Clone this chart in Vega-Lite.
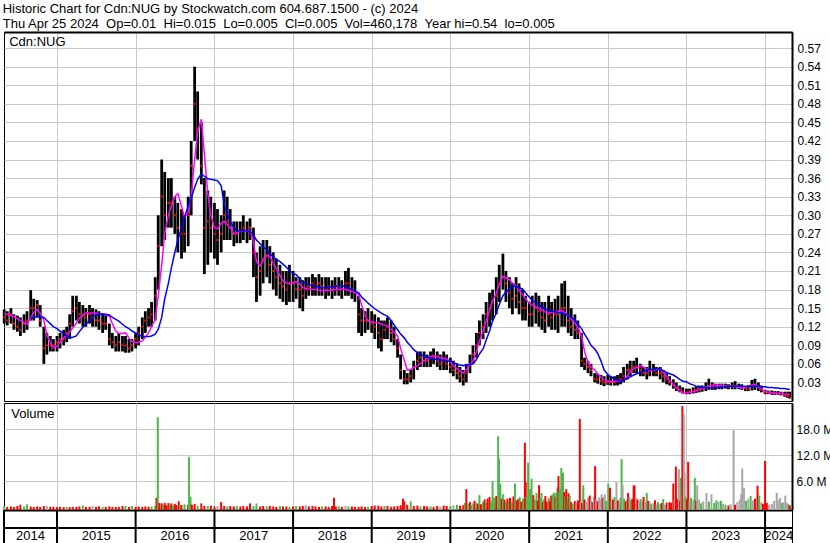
{
"$schema": "https://vega.github.io/schema/vega-lite/v6.json",
"background": "#ffffff",
"padding": {"left": 0, "top": 3, "right": 0, "bottom": 0},
"title": {"text": ["Historic Chart for Cdn:NUG by Stockwatch.com 604.687.1500 - (c) 2024", "Thu Apr 25 2024\u00a0\u00a0Op=0.01\u00a0\u00a0Hi=0.015\u00a0\u00a0Lo=0.005\u00a0\u00a0Cl=0.005\u00a0\u00a0Vol=460,178\u00a0\u00a0Year hi=0.54\u00a0\u00a0lo=0.005"], "anchor": "start", "frame": "bounds", "fontSize": 13, "fontWeight": "normal", "font": "Liberation Sans", "color": "#000000", "lineHeight": 14.5, "offset": 1, "dx": 2},
"config": {
  "font": "Liberation Sans",
  "view": {"stroke": "#000000", "strokeWidth": 1},
  "axis": {"gridColor": "#c8c8c8", "gridWidth": 1, "gridOpacity": 1, "labelFont": "Liberation Sans", "labelFontSize": 12, "labelColor": "#000000", "ticks": false, "domain": false, "title": null, "labelOverlap": false}
},
"datasets": {
"px": [
{"d":"2014-05-01","h":0.148,"l":0.125,"c":0.135,"m":0.141},
{"d":"2014-05-15","h":0.145,"l":0.122,"c":0.13,"m":0.14},
{"d":"2014-06-01","h":0.15,"l":0.125,"c":0.14,"m":0.138},
{"d":"2014-06-15","h":0.14,"l":0.115,"c":0.125,"m":0.136},
{"d":"2014-07-01","h":0.138,"l":0.112,"c":0.12,"m":0.133},
{"d":"2014-07-15","h":0.135,"l":0.105,"c":0.115,"m":0.13},
{"d":"2014-08-01","h":0.14,"l":0.11,"c":0.125,"m":0.127},
{"d":"2014-08-15","h":0.145,"l":0.115,"c":0.13,"m":0.124},
{"d":"2014-09-01","h":0.179,"l":0.13,"c":0.15,"m":0.134,"b":0.134},
{"d":"2014-09-15","h":0.165,"l":0.13,"c":0.15,"m":0.143,"b":0.135},
{"d":"2014-10-01","h":0.163,"l":0.135,"c":0.155,"m":0.148,"b":0.136},
{"d":"2014-10-15","h":0.155,"l":0.12,"c":0.13,"m":0.142,"b":0.136},
{"d":"2014-11-01","h":0.12,"l":0.06,"c":0.085,"m":0.13,"b":0.135},
{"d":"2014-11-15","h":0.11,"l":0.075,"c":0.09,"m":0.107,"b":0.13},
{"d":"2014-12-01","h":0.105,"l":0.08,"c":0.09,"m":0.094,"b":0.125},
{"d":"2014-12-15","h":0.1,"l":0.08,"c":0.09,"m":0.086,"b":0.12},
{"d":"2015-01-01","h":0.105,"l":0.08,"c":0.095,"m":0.088,"b":0.117},
{"d":"2015-01-15","h":0.11,"l":0.085,"c":0.1,"m":0.095,"b":0.113},
{"d":"2015-02-01","h":0.115,"l":0.09,"c":0.1,"m":0.102,"b":0.109},
{"d":"2015-02-15","h":0.12,"l":0.095,"c":0.11,"m":0.106,"b":0.105},
{"d":"2015-03-01","h":0.14,"l":0.1,"c":0.125,"m":0.112,"b":0.102},
{"d":"2015-03-15","h":0.17,"l":0.12,"c":0.145,"m":0.118,"b":0.103},
{"d":"2015-04-01","h":0.17,"l":0.13,"c":0.15,"m":0.126,"b":0.105},
{"d":"2015-04-15","h":0.16,"l":0.125,"c":0.14,"m":0.134,"b":0.112},
{"d":"2015-05-01","h":0.155,"l":0.12,"c":0.14,"m":0.138,"b":0.119},
{"d":"2015-05-15","h":0.15,"l":0.12,"c":0.135,"m":0.142,"b":0.124},
{"d":"2015-06-01","h":0.155,"l":0.125,"c":0.14,"m":0.142,"b":0.13},
{"d":"2015-06-15","h":0.15,"l":0.12,"c":0.135,"m":0.142,"b":0.135},
{"d":"2015-07-01","h":0.148,"l":0.12,"c":0.13,"m":0.142,"b":0.139},
{"d":"2015-07-15","h":0.145,"l":0.115,"c":0.13,"m":0.141,"b":0.141},
{"d":"2015-08-01","h":0.14,"l":0.11,"c":0.125,"m":0.141,"b":0.14},
{"d":"2015-08-15","h":0.14,"l":0.115,"c":0.125,"m":0.139,"b":0.14},
{"d":"2015-09-01","h":0.125,"l":0.09,"c":0.1,"m":0.137,"b":0.139},
{"d":"2015-09-15","h":0.11,"l":0.085,"c":0.095,"m":0.125,"b":0.135},
{"d":"2015-10-01","h":0.105,"l":0.08,"c":0.09,"m":0.113,"b":0.132},
{"d":"2015-10-15","h":0.11,"l":0.08,"c":0.095,"m":0.109,"b":0.129},
{"d":"2015-11-01","h":0.105,"l":0.08,"c":0.09,"m":0.109,"b":0.124},
{"d":"2015-11-15","h":0.105,"l":0.078,"c":0.09,"m":0.11,"b":0.12},
{"d":"2015-12-01","h":0.1,"l":0.078,"c":0.085,"m":0.102,"b":0.117},
{"d":"2015-12-15","h":0.1,"l":0.08,"c":0.09,"m":0.096,"b":0.113},
{"d":"2016-01-01","h":0.11,"l":0.085,"c":0.1,"m":0.094,"b":0.11},
{"d":"2016-01-15","h":0.12,"l":0.09,"c":0.11,"m":0.095,"b":0.107},
{"d":"2016-02-01","h":0.135,"l":0.1,"c":0.12,"m":0.097,"b":0.104},
{"d":"2016-02-15","h":0.145,"l":0.11,"c":0.13,"m":0.103,"b":0.104},
{"d":"2016-03-01","h":0.15,"l":0.12,"c":0.135,"m":0.11,"b":0.104},
{"d":"2016-03-15","h":0.16,"l":0.12,"c":0.14,"m":0.12,"b":0.105},
{"d":"2016-04-01","h":0.2,"l":0.13,"c":0.17,"m":0.132,"b":0.108},
{"d":"2016-04-15","h":0.3,"l":0.18,"c":0.25,"m":0.17,"b":0.116},
{"d":"2016-05-01","h":0.39,"l":0.25,"c":0.33,"m":0.22,"b":0.135},
{"d":"2016-05-15","h":0.37,"l":0.26,"c":0.3,"m":0.27,"b":0.165},
{"d":"2016-06-01","h":0.36,"l":0.28,"c":0.32,"m":0.3,"b":0.19},
{"d":"2016-06-15","h":0.36,"l":0.28,"c":0.32,"m":0.315,"b":0.215},
{"d":"2016-07-01","h":0.33,"l":0.27,"c":0.3,"m":0.33,"b":0.24},
{"d":"2016-07-15","h":0.32,"l":0.24,"c":0.28,"m":0.335,"b":0.26},
{"d":"2016-08-01","h":0.31,"l":0.23,"c":0.27,"m":0.315,"b":0.28},
{"d":"2016-08-15","h":0.3,"l":0.24,"c":0.27,"m":0.297,"b":0.297},
{"d":"2016-09-01","h":0.33,"l":0.25,"c":0.3,"m":0.305,"b":0.315},
{"d":"2016-09-15","h":0.42,"l":0.3,"c":0.38,"m":0.33,"b":0.328},
{"d":"2016-10-01","h":0.54,"l":0.42,"c":0.48,"m":0.39,"b":0.345},
{"d":"2016-10-15","h":0.5,"l":0.39,"c":0.44,"m":0.435,"b":0.358},
{"d":"2016-11-01","h":0.45,"l":0.35,"c":0.38,"m":0.455,"b":0.367},
{"d":"2016-11-15","h":0.36,"l":0.205,"c":0.28,"m":0.4,"b":0.363},
{"d":"2016-12-01","h":0.34,"l":0.22,"c":0.29,"m":0.335,"b":0.359},
{"d":"2016-12-15","h":0.33,"l":0.24,"c":0.28,"m":0.3,"b":0.358},
{"d":"2017-01-01","h":0.32,"l":0.23,"c":0.27,"m":0.28,"b":0.357},
{"d":"2017-01-15","h":0.31,"l":0.22,"c":0.26,"m":0.278,"b":0.356},
{"d":"2017-02-01","h":0.3,"l":0.24,"c":0.27,"m":0.287,"b":0.348},
{"d":"2017-02-15","h":0.34,"l":0.26,"c":0.3,"m":0.29,"b":0.318},
{"d":"2017-03-01","h":0.33,"l":0.26,"c":0.29,"m":0.285,"b":0.303},
{"d":"2017-03-15","h":0.31,"l":0.26,"c":0.28,"m":0.28,"b":0.29},
{"d":"2017-04-01","h":0.29,"l":0.25,"c":0.27,"m":0.27,"b":0.28},
{"d":"2017-04-15","h":0.29,"l":0.255,"c":0.27,"m":0.272,"b":0.275},
{"d":"2017-05-01","h":0.29,"l":0.255,"c":0.275,"m":0.275,"b":0.275},
{"d":"2017-05-15","h":0.3,"l":0.26,"c":0.28,"m":0.275,"b":0.275},
{"d":"2017-06-01","h":0.29,"l":0.255,"c":0.275,"m":0.275,"b":0.275},
{"d":"2017-06-15","h":0.295,"l":0.26,"c":0.28,"m":0.275,"b":0.274},
{"d":"2017-07-01","h":0.28,"l":0.2,"c":0.24,"m":0.258,"b":0.268},
{"d":"2017-07-15","h":0.24,"l":0.16,"c":0.2,"m":0.225,"b":0.26},
{"d":"2017-08-01","h":0.25,"l":0.17,"c":0.21,"m":0.218,"b":0.254},
{"d":"2017-08-15","h":0.26,"l":0.19,"c":0.23,"m":0.227,"b":0.249},
{"d":"2017-09-01","h":0.26,"l":0.2,"c":0.235,"m":0.235,"b":0.244},
{"d":"2017-09-15","h":0.25,"l":0.19,"c":0.22,"m":0.234,"b":0.238},
{"d":"2017-10-01","h":0.24,"l":0.18,"c":0.21,"m":0.222,"b":0.233},
{"d":"2017-10-15","h":0.23,"l":0.17,"c":0.2,"m":0.214,"b":0.229},
{"d":"2017-11-01","h":0.22,"l":0.165,"c":0.19,"m":0.203,"b":0.225},
{"d":"2017-11-15","h":0.21,"l":0.16,"c":0.185,"m":0.194,"b":0.221},
{"d":"2017-12-01","h":0.21,"l":0.155,"c":0.18,"m":0.191,"b":0.216},
{"d":"2017-12-15","h":0.22,"l":0.16,"c":0.19,"m":0.189,"b":0.211},
{"d":"2018-01-01","h":0.21,"l":0.16,"c":0.19,"m":0.191,"b":0.206},
{"d":"2018-01-15","h":0.2,"l":0.165,"c":0.18,"m":0.193,"b":0.204},
{"d":"2018-02-01","h":0.2,"l":0.15,"c":0.18,"m":0.189,"b":0.198},
{"d":"2018-02-15","h":0.195,"l":0.145,"c":0.17,"m":0.183,"b":0.192},
{"d":"2018-03-01","h":0.2,"l":0.165,"c":0.18,"m":0.182,"b":0.19},
{"d":"2018-03-15","h":0.2,"l":0.17,"c":0.185,"m":0.181,"b":0.188},
{"d":"2018-04-01","h":0.205,"l":0.17,"c":0.19,"m":0.18,"b":0.186},
{"d":"2018-04-15","h":0.2,"l":0.17,"c":0.185,"m":0.18,"b":0.185},
{"d":"2018-05-01","h":0.205,"l":0.17,"c":0.19,"m":0.179,"b":0.184},
{"d":"2018-05-15","h":0.2,"l":0.17,"c":0.185,"m":0.178,"b":0.183},
{"d":"2018-06-01","h":0.2,"l":0.165,"c":0.18,"m":0.178,"b":0.183},
{"d":"2018-06-15","h":0.2,"l":0.17,"c":0.185,"m":0.179,"b":0.184},
{"d":"2018-07-01","h":0.195,"l":0.165,"c":0.18,"m":0.179,"b":0.185},
{"d":"2018-07-15","h":0.2,"l":0.17,"c":0.185,"m":0.18,"b":0.185},
{"d":"2018-08-01","h":0.2,"l":0.17,"c":0.185,"m":0.18,"b":0.186},
{"d":"2018-08-15","h":0.195,"l":0.165,"c":0.18,"m":0.181,"b":0.186},
{"d":"2018-09-01","h":0.21,"l":0.17,"c":0.19,"m":0.18,"b":0.185},
{"d":"2018-09-15","h":0.215,"l":0.17,"c":0.19,"m":0.179,"b":0.183},
{"d":"2018-10-01","h":0.2,"l":0.165,"c":0.18,"m":0.177,"b":0.18},
{"d":"2018-10-15","h":0.195,"l":0.16,"c":0.175,"m":0.176,"b":0.177},
{"d":"2018-11-01","h":0.17,"l":0.11,"c":0.14,"m":0.172,"b":0.175},
{"d":"2018-11-15","h":0.15,"l":0.105,"c":0.13,"m":0.155,"b":0.168},
{"d":"2018-12-01","h":0.145,"l":0.11,"c":0.13,"m":0.138,"b":0.163},
{"d":"2018-12-15","h":0.15,"l":0.115,"c":0.13,"m":0.129,"b":0.158},
{"d":"2019-01-01","h":0.145,"l":0.11,"c":0.125,"m":0.128,"b":0.153},
{"d":"2019-01-15","h":0.14,"l":0.1,"c":0.12,"m":0.127,"b":0.149},
{"d":"2019-02-01","h":0.135,"l":0.085,"c":0.11,"m":0.126,"b":0.145},
{"d":"2019-02-15","h":0.13,"l":0.08,"c":0.1,"m":0.124,"b":0.142},
{"d":"2019-03-01","h":0.13,"l":0.1,"c":0.115,"m":0.123,"b":0.139},
{"d":"2019-03-15","h":0.135,"l":0.1,"c":0.12,"m":0.121,"b":0.137},
{"d":"2019-04-01","h":0.13,"l":0.095,"c":0.11,"m":0.116,"b":0.13},
{"d":"2019-04-15","h":0.12,"l":0.09,"c":0.1,"m":0.111,"b":0.123},
{"d":"2019-05-01","h":0.1,"l":0.07,"c":0.085,"m":0.105,"b":0.115},
{"d":"2019-05-15","h":0.075,"l":0.035,"c":0.05,"m":0.085,"b":0.108},
{"d":"2019-06-01","h":0.05,"l":0.027,"c":0.035,"m":0.066,"b":0.102},
{"d":"2019-06-15","h":0.045,"l":0.027,"c":0.035,"m":0.05,"b":0.095},
{"d":"2019-07-01","h":0.05,"l":0.03,"c":0.04,"m":0.051,"b":0.089},
{"d":"2019-07-15","h":0.065,"l":0.035,"c":0.055,"m":0.054,"b":0.083},
{"d":"2019-08-01","h":0.08,"l":0.05,"c":0.065,"m":0.057,"b":0.078},
{"d":"2019-08-15","h":0.08,"l":0.055,"c":0.07,"m":0.061,"b":0.075},
{"d":"2019-09-01","h":0.08,"l":0.055,"c":0.065,"m":0.065,"b":0.073},
{"d":"2019-09-15","h":0.075,"l":0.055,"c":0.065,"m":0.069,"b":0.071},
{"d":"2019-10-01","h":0.08,"l":0.055,"c":0.07,"m":0.072,"b":0.069},
{"d":"2019-10-15","h":0.085,"l":0.06,"c":0.07,"m":0.073,"b":0.068},
{"d":"2019-11-01","h":0.08,"l":0.055,"c":0.065,"m":0.072,"b":0.067},
{"d":"2019-11-15","h":0.075,"l":0.05,"c":0.06,"m":0.07,"b":0.066},
{"d":"2019-12-01","h":0.08,"l":0.05,"c":0.065,"m":0.069,"b":0.066},
{"d":"2019-12-15","h":0.075,"l":0.05,"c":0.06,"m":0.068,"b":0.065},
{"d":"2020-01-01","h":0.07,"l":0.045,"c":0.055,"m":0.063,"b":0.064},
{"d":"2020-01-15","h":0.065,"l":0.04,"c":0.05,"m":0.057,"b":0.062},
{"d":"2020-02-01","h":0.06,"l":0.035,"c":0.045,"m":0.052,"b":0.06},
{"d":"2020-02-15","h":0.055,"l":0.03,"c":0.04,"m":0.048,"b":0.058},
{"d":"2020-03-01","h":0.05,"l":0.025,"c":0.035,"m":0.045,"b":0.057},
{"d":"2020-03-15","h":0.06,"l":0.03,"c":0.045,"m":0.051,"b":0.058},
{"d":"2020-04-01","h":0.075,"l":0.045,"c":0.06,"m":0.058,"b":0.059},
{"d":"2020-04-15","h":0.09,"l":0.06,"c":0.075,"m":0.065,"b":0.06},
{"d":"2020-05-01","h":0.11,"l":0.07,"c":0.09,"m":0.08,"b":0.067},
{"d":"2020-05-15","h":0.13,"l":0.09,"c":0.11,"m":0.097,"b":0.076},
{"d":"2020-06-01","h":0.14,"l":0.1,"c":0.12,"m":0.113,"b":0.084},
{"d":"2020-06-15","h":0.16,"l":0.11,"c":0.14,"m":0.129,"b":0.098},
{"d":"2020-07-01","h":0.175,"l":0.12,"c":0.15,"m":0.146,"b":0.113},
{"d":"2020-07-15","h":0.18,"l":0.13,"c":0.16,"m":0.162,"b":0.129},
{"d":"2020-08-01","h":0.2,"l":0.14,"c":0.17,"m":0.174,"b":0.142},
{"d":"2020-08-15","h":0.22,"l":0.16,"c":0.19,"m":0.188,"b":0.156},
{"d":"2020-09-01","h":0.238,"l":0.18,"c":0.2,"m":0.201,"b":0.17},
{"d":"2020-09-15","h":0.21,"l":0.16,"c":0.19,"m":0.199,"b":0.176},
{"d":"2020-10-01","h":0.2,"l":0.15,"c":0.175,"m":0.196,"b":0.181},
{"d":"2020-10-15","h":0.19,"l":0.14,"c":0.165,"m":0.191,"b":0.186},
{"d":"2020-11-01","h":0.2,"l":0.15,"c":0.17,"m":0.186,"b":0.185},
{"d":"2020-11-15","h":0.19,"l":0.14,"c":0.16,"m":0.178,"b":0.183},
{"d":"2020-12-01","h":0.18,"l":0.13,"c":0.15,"m":0.172,"b":0.181},
{"d":"2020-12-15","h":0.17,"l":0.13,"c":0.15,"m":0.165,"b":0.175},
{"d":"2021-01-01","h":0.16,"l":0.12,"c":0.14,"m":0.158,"b":0.168},
{"d":"2021-01-15","h":0.17,"l":0.12,"c":0.14,"m":0.155,"b":0.163},
{"d":"2021-02-01","h":0.175,"l":0.125,"c":0.15,"m":0.152,"b":0.159},
{"d":"2021-02-15","h":0.17,"l":0.12,"c":0.145,"m":0.15,"b":0.155},
{"d":"2021-03-01","h":0.16,"l":0.115,"c":0.135,"m":0.147,"b":0.152},
{"d":"2021-03-15","h":0.16,"l":0.11,"c":0.13,"m":0.144,"b":0.149},
{"d":"2021-04-01","h":0.17,"l":0.12,"c":0.14,"m":0.142,"b":0.146},
{"d":"2021-04-15","h":0.16,"l":0.115,"c":0.135,"m":0.143,"b":0.145},
{"d":"2021-05-01","h":0.165,"l":0.115,"c":0.14,"m":0.144,"b":0.144},
{"d":"2021-05-15","h":0.17,"l":0.11,"c":0.14,"m":0.145,"b":0.143},
{"d":"2021-06-01","h":0.19,"l":0.12,"c":0.15,"m":0.146,"b":0.142},
{"d":"2021-06-15","h":0.194,"l":0.12,"c":0.15,"m":0.143,"b":0.141},
{"d":"2021-07-01","h":0.17,"l":0.11,"c":0.13,"m":0.138,"b":0.138},
{"d":"2021-07-15","h":0.15,"l":0.105,"c":0.12,"m":0.132,"b":0.135},
{"d":"2021-08-01","h":0.14,"l":0.1,"c":0.115,"m":0.126,"b":0.131},
{"d":"2021-08-15","h":0.13,"l":0.1,"c":0.11,"m":0.118,"b":0.124},
{"d":"2021-09-01","h":0.11,"l":0.055,"c":0.065,"m":0.105,"b":0.117},
{"d":"2021-09-15","h":0.07,"l":0.05,"c":0.06,"m":0.08,"b":0.108},
{"d":"2021-10-01","h":0.065,"l":0.045,"c":0.055,"m":0.062,"b":0.099},
{"d":"2021-10-15","h":0.06,"l":0.04,"c":0.05,"m":0.055,"b":0.09},
{"d":"2021-11-01","h":0.045,"l":0.03,"c":0.035,"m":0.05,"b":0.084},
{"d":"2021-11-15","h":0.044,"l":0.028,"c":0.035,"m":0.044,"b":0.077},
{"d":"2021-12-01","h":0.042,"l":0.026,"c":0.032,"m":0.038,"b":0.064},
{"d":"2021-12-15","h":0.04,"l":0.024,"c":0.03,"m":0.034,"b":0.05},
{"d":"2022-01-01","h":0.042,"l":0.026,"c":0.03,"m":0.032,"b":0.043},
{"d":"2022-01-15","h":0.04,"l":0.025,"c":0.03,"m":0.032,"b":0.039},
{"d":"2022-02-01","h":0.04,"l":0.025,"c":0.03,"m":0.032,"b":0.036},
{"d":"2022-02-15","h":0.042,"l":0.025,"c":0.032,"m":0.032,"b":0.033},
{"d":"2022-03-01","h":0.045,"l":0.027,"c":0.035,"m":0.032,"b":0.032},
{"d":"2022-03-15","h":0.055,"l":0.03,"c":0.04,"m":0.033,"b":0.034},
{"d":"2022-04-01","h":0.06,"l":0.035,"c":0.05,"m":0.04,"b":0.036},
{"d":"2022-04-15","h":0.065,"l":0.04,"c":0.05,"m":0.047,"b":0.039},
{"d":"2022-05-01","h":0.065,"l":0.045,"c":0.055,"m":0.052,"b":0.042},
{"d":"2022-05-15","h":0.07,"l":0.045,"c":0.055,"m":0.054,"b":0.044},
{"d":"2022-06-01","h":0.06,"l":0.04,"c":0.05,"m":0.057,"b":0.046},
{"d":"2022-06-15","h":0.055,"l":0.04,"c":0.045,"m":0.055,"b":0.048},
{"d":"2022-07-01","h":0.055,"l":0.035,"c":0.045,"m":0.052,"b":0.05},
{"d":"2022-07-15","h":0.065,"l":0.04,"c":0.05,"m":0.049,"b":0.051},
{"d":"2022-08-01","h":0.06,"l":0.04,"c":0.05,"m":0.05,"b":0.051},
{"d":"2022-08-15","h":0.055,"l":0.04,"c":0.045,"m":0.051,"b":0.052},
{"d":"2022-09-01","h":0.055,"l":0.035,"c":0.045,"m":0.052,"b":0.052},
{"d":"2022-09-15","h":0.05,"l":0.03,"c":0.04,"m":0.046,"b":0.049},
{"d":"2022-10-01","h":0.045,"l":0.027,"c":0.035,"m":0.04,"b":0.046},
{"d":"2022-10-15","h":0.04,"l":0.025,"c":0.03,"m":0.033,"b":0.044},
{"d":"2022-11-01","h":0.035,"l":0.02,"c":0.025,"m":0.027,"b":0.042},
{"d":"2022-11-15","h":0.03,"l":0.016,"c":0.02,"m":0.022,"b":0.039},
{"d":"2022-12-01","h":0.025,"l":0.014,"c":0.018,"m":0.017,"b":0.035},
{"d":"2022-12-15","h":0.022,"l":0.012,"c":0.015,"m":0.013,"b":0.032},
{"d":"2023-01-01","h":0.02,"l":0.011,"c":0.014,"m":0.013,"b":0.031},
{"d":"2023-01-15","h":0.02,"l":0.011,"c":0.015,"m":0.014,"b":0.028},
{"d":"2023-02-01","h":0.022,"l":0.012,"c":0.016,"m":0.015,"b":0.026},
{"d":"2023-02-15","h":0.024,"l":0.013,"c":0.018,"m":0.016,"b":0.024},
{"d":"2023-03-01","h":0.025,"l":0.014,"c":0.02,"m":0.018,"b":0.023},
{"d":"2023-03-15","h":0.025,"l":0.015,"c":0.02,"m":0.02,"b":0.022},
{"d":"2023-04-01","h":0.03,"l":0.016,"c":0.022,"m":0.022,"b":0.022},
{"d":"2023-04-15","h":0.036,"l":0.018,"c":0.024,"m":0.024,"b":0.021},
{"d":"2023-05-01","h":0.03,"l":0.018,"c":0.024,"m":0.026,"b":0.021},
{"d":"2023-05-15","h":0.028,"l":0.018,"c":0.024,"m":0.026,"b":0.022},
{"d":"2023-06-01","h":0.028,"l":0.019,"c":0.023,"m":0.025,"b":0.022},
{"d":"2023-06-15","h":0.028,"l":0.019,"c":0.024,"m":0.025,"b":0.023},
{"d":"2023-07-01","h":0.028,"l":0.02,"c":0.024,"m":0.024,"b":0.023},
{"d":"2023-07-15","h":0.027,"l":0.019,"c":0.023,"m":0.024,"b":0.024},
{"d":"2023-08-01","h":0.03,"l":0.019,"c":0.024,"m":0.024,"b":0.024},
{"d":"2023-08-15","h":0.032,"l":0.019,"c":0.024,"m":0.023,"b":0.024},
{"d":"2023-09-01","h":0.028,"l":0.019,"c":0.023,"m":0.022,"b":0.024},
{"d":"2023-09-15","h":0.027,"l":0.018,"c":0.022,"m":0.021,"b":0.024},
{"d":"2023-10-01","h":0.024,"l":0.016,"c":0.02,"m":0.022,"b":0.024},
{"d":"2023-10-15","h":0.025,"l":0.016,"c":0.02,"m":0.024,"b":0.024},
{"d":"2023-11-01","h":0.034,"l":0.017,"c":0.024,"m":0.026,"b":0.024},
{"d":"2023-11-15","h":0.036,"l":0.018,"c":0.026,"m":0.027,"b":0.024},
{"d":"2023-12-01","h":0.03,"l":0.016,"c":0.022,"m":0.023,"b":0.024},
{"d":"2023-12-15","h":0.025,"l":0.014,"c":0.018,"m":0.019,"b":0.023},
{"d":"2024-01-01","h":0.018,"l":0.011,"c":0.014,"m":0.016,"b":0.023},
{"d":"2024-01-15","h":0.017,"l":0.011,"c":0.014,"m":0.014,"b":0.022},
{"d":"2024-02-01","h":0.017,"l":0.01,"c":0.013,"m":0.013,"b":0.022},
{"d":"2024-02-15","h":0.016,"l":0.01,"c":0.013,"m":0.013,"b":0.021},
{"d":"2024-03-01","h":0.016,"l":0.01,"c":0.012,"m":0.012,"b":0.021},
{"d":"2024-03-15","h":0.015,"l":0.009,"c":0.012,"m":0.012,"b":0.02},
{"d":"2024-04-01","h":0.015,"l":0.007,"c":0.01,"m":0.011,"b":0.02},
{"d":"2024-04-15","h":0.015,"l":0.005,"c":0.008,"m":0.011,"b":0.019},
{"d":"2024-04-25","h":0.015,"l":0.005,"c":0.005,"m":0.011,"b":0.019}
],
"vol": [
{"d":"2014-05-01","v":0.3,"k":"g"},{"d":"2014-05-15","v":0.1,"k":"r"},{"d":"2014-06-01","v":0.2,"k":"r"},{"d":"2014-06-15","v":0.1,"k":"r"},
{"d":"2014-07-01","v":0.3,"k":"r"},{"d":"2014-07-15","v":0.6,"k":"r"},{"d":"2014-08-01","v":0.2,"k":"g"},{"d":"2014-08-15","v":0.7,"k":"g"},
{"d":"2014-09-01","v":0.2,"k":"r"},{"d":"2014-09-15","v":0.1,"k":"r"},{"d":"2014-10-01","v":0.2,"k":"r"},{"d":"2014-10-15","v":0.1,"k":"r"},
{"d":"2014-11-01","v":0.3,"k":"r"},{"d":"2014-11-15","v":0.3,"k":"n"},{"d":"2014-12-01","v":0.1,"k":"r"},{"d":"2014-12-15","v":0.1,"k":"r"},
{"d":"2015-01-01","v":0.05,"k":"r"},{"d":"2015-01-15","v":0.1,"k":"r"},{"d":"2015-02-01","v":0.05,"k":"r"},{"d":"2015-02-15","v":0.1,"k":"g"},
{"d":"2015-03-01","v":0.05,"k":"r"},{"d":"2015-03-15","v":0.1,"k":"r"},{"d":"2015-04-01","v":0.1,"k":"r"},{"d":"2015-04-15","v":0.2,"k":"r"},
{"d":"2015-05-01","v":0.4,"k":"g"},{"d":"2015-05-15","v":0.1,"k":"r"},{"d":"2015-06-01","v":0.1,"k":"r"},{"d":"2015-06-15","v":0.3,"k":"n"},
{"d":"2015-07-01","v":0.1,"k":"r"},{"d":"2015-07-15","v":0.2,"k":"r"},{"d":"2015-08-01","v":0.1,"k":"g"},{"d":"2015-08-15","v":0.1,"k":"r"},
{"d":"2015-09-01","v":0.2,"k":"r"},{"d":"2015-09-15","v":0.1,"k":"r"},{"d":"2015-10-01","v":0.1,"k":"r"},{"d":"2015-10-15","v":0.1,"k":"r"},
{"d":"2015-11-01","v":0.3,"k":"r"},{"d":"2015-11-15","v":0.3,"k":"g"},{"d":"2015-12-01","v":0.1,"k":"r"},{"d":"2015-12-15","v":0.3,"k":"g"},
{"d":"2016-01-01","v":0.1,"k":"r"},{"d":"2016-01-15","v":0.2,"k":"r"},{"d":"2016-02-01","v":0.1,"k":"r"},{"d":"2016-02-15","v":0.2,"k":"r"},
{"d":"2016-03-01","v":0.1,"k":"r"},{"d":"2016-03-15","v":0.2,"k":"g"},{"d":"2016-04-01","v":0.3,"k":"g"},{"d":"2016-04-07","v":2.2,"k":"r"},
{"d":"2016-04-13","v":20.8,"k":"g"},{"d":"2016-04-20","v":1.0,"k":"r"},{"d":"2016-05-01","v":0.9,"k":"r"},{"d":"2016-05-08","v":0.6,"k":"g"},
{"d":"2016-05-15","v":1.0,"k":"r"},{"d":"2016-05-22","v":0.5,"k":"r"},{"d":"2016-06-01","v":1.0,"k":"r"},{"d":"2016-06-08","v":0.6,"k":"g"},
{"d":"2016-06-15","v":0.9,"k":"r"},{"d":"2016-06-22","v":0.4,"k":"g"},{"d":"2016-07-01","v":0.8,"k":"r"},{"d":"2016-07-08","v":0.5,"k":"r"},
{"d":"2016-07-19","v":1.4,"k":"r"},{"d":"2016-07-25","v":0.6,"k":"g"},{"d":"2016-08-01","v":0.5,"k":"r"},{"d":"2016-08-15","v":0.7,"k":"g"},
{"d":"2016-09-01","v":0.6,"k":"r"},{"d":"2016-09-05","v":11.6,"k":"g"},{"d":"2016-09-12","v":2.4,"k":"g"},{"d":"2016-09-18","v":0.6,"k":"r"},
{"d":"2016-10-01","v":0.8,"k":"r"},{"d":"2016-10-15","v":0.3,"k":"g"},{"d":"2016-11-01","v":0.9,"k":"r"},{"d":"2016-11-15","v":0.3,"k":"r"},
{"d":"2016-12-01","v":0.3,"k":"g"},{"d":"2016-12-15","v":0.4,"k":"r"},{"d":"2017-01-01","v":0.2,"k":"r"},{"d":"2017-01-15","v":0.3,"k":"n"},
{"d":"2017-02-01","v":1.2,"k":"r"},{"d":"2017-02-15","v":0.3,"k":"r"},{"d":"2017-03-01","v":0.2,"k":"g"},{"d":"2017-03-15","v":0.3,"k":"r"},
{"d":"2017-04-01","v":0.2,"k":"r"},{"d":"2017-04-15","v":0.3,"k":"g"},{"d":"2017-05-01","v":0.2,"k":"r"},{"d":"2017-05-15","v":0.3,"k":"r"},
{"d":"2017-06-01","v":0.2,"k":"r"},{"d":"2017-06-15","v":0.9,"k":"r"},{"d":"2017-07-01","v":0.3,"k":"g"},{"d":"2017-07-15","v":0.9,"k":"g"},
{"d":"2017-08-01","v":0.2,"k":"r"},{"d":"2017-08-15","v":0.3,"k":"r"},{"d":"2017-09-01","v":0.2,"k":"g"},{"d":"2017-09-15","v":0.3,"k":"r"},
{"d":"2017-10-01","v":0.2,"k":"r"},{"d":"2017-10-15","v":0.1,"k":"r"},{"d":"2017-11-01","v":0.3,"k":"g"},{"d":"2017-11-15","v":0.2,"k":"r"},
{"d":"2017-12-01","v":0.2,"k":"r"},{"d":"2017-12-15","v":0.1,"k":"g"},{"d":"2018-01-01","v":0.2,"k":"r"},{"d":"2018-01-15","v":0.3,"k":"g"},
{"d":"2018-02-01","v":0.2,"k":"r"},{"d":"2018-02-15","v":0.3,"k":"r"},{"d":"2018-03-01","v":0.5,"k":"n"},{"d":"2018-03-15","v":0.2,"k":"r"},
{"d":"2018-04-01","v":0.3,"k":"r"},{"d":"2018-04-15","v":0.2,"k":"r"},{"d":"2018-05-01","v":0.1,"k":"r"},{"d":"2018-05-15","v":0.2,"k":"g"},
{"d":"2018-06-01","v":0.2,"k":"r"},{"d":"2018-06-15","v":0.1,"k":"r"},{"d":"2018-07-01","v":0.3,"k":"r"},{"d":"2018-07-10","v":2.2,"k":"r"},
{"d":"2018-07-18","v":0.2,"k":"r"},{"d":"2018-08-01","v":0.2,"k":"g"},{"d":"2018-08-15","v":0.1,"k":"r"},{"d":"2018-09-01","v":0.3,"k":"n"},
{"d":"2018-09-15","v":0.2,"k":"g"},{"d":"2018-10-01","v":0.2,"k":"r"},{"d":"2018-10-15","v":0.1,"k":"r"},{"d":"2018-11-01","v":0.1,"k":"r"},
{"d":"2018-11-15","v":0.2,"k":"r"},{"d":"2018-12-01","v":0.1,"k":"r"},{"d":"2018-12-15","v":0.1,"k":"g"},{"d":"2019-01-01","v":0.3,"k":"r"},
{"d":"2019-01-15","v":0.4,"k":"r"},{"d":"2019-02-01","v":0.4,"k":"r"},{"d":"2019-02-15","v":0.2,"k":"r"},{"d":"2019-03-01","v":0.3,"k":"g"},
{"d":"2019-03-15","v":0.3,"k":"r"},{"d":"2019-04-01","v":0.1,"k":"r"},{"d":"2019-04-15","v":0.2,"k":"r"},{"d":"2019-05-01","v":0.3,"k":"r"},
{"d":"2019-05-15","v":0.5,"k":"r"},{"d":"2019-05-26","v":2.0,"k":"r"},{"d":"2019-06-01","v":1.4,"k":"r"},{"d":"2019-06-08","v":0.9,"k":"n"},
{"d":"2019-06-15","v":0.5,"k":"r"},{"d":"2019-07-01","v":1.4,"k":"g"},{"d":"2019-07-15","v":0.3,"k":"r"},{"d":"2019-08-01","v":0.4,"k":"r"},
{"d":"2019-08-15","v":0.2,"k":"g"},{"d":"2019-09-01","v":0.3,"k":"r"},{"d":"2019-09-15","v":0.2,"k":"r"},{"d":"2019-10-01","v":0.2,"k":"g"},
{"d":"2019-10-15","v":0.1,"k":"r"},{"d":"2019-11-01","v":0.3,"k":"r"},{"d":"2019-11-15","v":0.2,"k":"n"},{"d":"2019-12-01","v":0.4,"k":"r"},
{"d":"2019-12-15","v":0.3,"k":"r"},{"d":"2020-01-01","v":0.3,"k":"g"},{"d":"2020-01-15","v":0.5,"k":"n"},{"d":"2020-02-01","v":0.6,"k":"g"},
{"d":"2020-02-15","v":0.4,"k":"r"},{"d":"2020-03-01","v":0.5,"k":"r"},{"d":"2020-03-08","v":1.0,"k":"g"},{"d":"2020-03-15","v":4.2,"k":"r"},
{"d":"2020-03-22","v":0.8,"k":"g"},{"d":"2020-04-01","v":1.2,"k":"r"},{"d":"2020-04-08","v":0.6,"k":"g"},{"d":"2020-04-15","v":0.9,"k":"n"},
{"d":"2020-04-22","v":1.5,"k":"r"},{"d":"2020-05-01","v":1.1,"k":"g"},{"d":"2020-05-08","v":0.8,"k":"r"},{"d":"2020-05-15","v":2.8,"k":"g"},
{"d":"2020-05-22","v":0.7,"k":"r"},{"d":"2020-06-01","v":1.3,"k":"g"},{"d":"2020-06-08","v":1.8,"k":"r"},{"d":"2020-06-15","v":1.0,"k":"g"},
{"d":"2020-06-22","v":2.0,"k":"r"},{"d":"2020-07-01","v":2.4,"k":"r"},{"d":"2020-07-08","v":1.5,"k":"g"},{"d":"2020-07-15","v":6.0,"k":"g"},
{"d":"2020-07-22","v":2.2,"k":"g"},{"d":"2020-08-01","v":2.6,"k":"r"},{"d":"2020-08-10","v":16.4,"k":"g"},{"d":"2020-08-14","v":11.2,"k":"g"},
{"d":"2020-08-20","v":5.4,"k":"g"},{"d":"2020-08-26","v":2.0,"k":"r"},{"d":"2020-09-01","v":3.0,"k":"g"},{"d":"2020-09-08","v":1.8,"k":"r"},
{"d":"2020-09-15","v":1.2,"k":"g"},{"d":"2020-09-22","v":2.0,"k":"r"},{"d":"2020-09-28","v":1.5,"k":"g"},{"d":"2020-10-04","v":2.2,"k":"r"},
{"d":"2020-10-12","v":1.2,"k":"g"},{"d":"2020-10-20","v":2.5,"k":"r"},{"d":"2020-10-27","v":5.5,"k":"g"},{"d":"2020-11-04","v":1.6,"k":"r"},
{"d":"2020-11-11","v":1.9,"k":"r"},{"d":"2020-11-18","v":2.4,"k":"g"},{"d":"2020-11-25","v":1.3,"k":"r"},{"d":"2020-12-03","v":2.0,"k":"g"},
{"d":"2020-12-12","v":14.9,"k":"r"},{"d":"2020-12-16","v":5.8,"k":"r"},{"d":"2020-12-20","v":2.5,"k":"g"},{"d":"2020-12-27","v":10.3,"k":"g"},
{"d":"2021-01-05","v":4.2,"k":"g"},{"d":"2021-01-12","v":6.6,"k":"g"},{"d":"2021-01-20","v":2.8,"k":"r"},{"d":"2021-01-27","v":1.8,"k":"g"},
{"d":"2021-02-04","v":3.3,"k":"g"},{"d":"2021-02-10","v":1.5,"k":"r"},{"d":"2021-02-16","v":5.1,"k":"r"},{"d":"2021-02-22","v":2.0,"k":"g"},
{"d":"2021-02-27","v":3.3,"k":"g"},{"d":"2021-03-05","v":1.2,"k":"r"},{"d":"2021-03-10","v":1.8,"k":"g"},{"d":"2021-03-17","v":2.6,"k":"r"},
{"d":"2021-03-24","v":1.3,"k":"r"},{"d":"2021-04-01","v":2.2,"k":"g"},{"d":"2021-04-07","v":1.5,"k":"r"},{"d":"2021-04-13","v":2.7,"k":"r"},
{"d":"2021-04-20","v":3.0,"k":"g"},{"d":"2021-04-27","v":3.4,"k":"g"},{"d":"2021-05-03","v":2.4,"k":"r"},{"d":"2021-05-07","v":3.3,"k":"g"},
{"d":"2021-05-12","v":4.6,"k":"g"},{"d":"2021-05-17","v":7.2,"k":"r"},{"d":"2021-05-21","v":3.6,"k":"g"},{"d":"2021-05-26","v":4.2,"k":"g"},
{"d":"2021-05-30","v":9.1,"k":"g"},{"d":"2021-06-03","v":5.0,"k":"g"},{"d":"2021-06-07","v":8.0,"k":"g"},{"d":"2021-06-12","v":3.5,"k":"r"},
{"d":"2021-06-17","v":2.6,"k":"g"},{"d":"2021-06-22","v":4.2,"k":"r"},{"d":"2021-06-28","v":1.8,"k":"g"},{"d":"2021-07-03","v":3.2,"k":"r"},
{"d":"2021-07-08","v":2.6,"k":"g"},{"d":"2021-07-15","v":1.2,"k":"r"},{"d":"2021-07-22","v":0.8,"k":"g"},{"d":"2021-08-01","v":1.4,"k":"r"},
{"d":"2021-08-08","v":1.0,"k":"n"},{"d":"2021-08-15","v":1.6,"k":"r"},{"d":"2021-08-20","v":0.9,"k":"r"},{"d":"2021-08-24","v":20.4,"k":"r"},
{"d":"2021-08-28","v":1.2,"k":"n"},{"d":"2021-09-03","v":1.0,"k":"r"},{"d":"2021-09-09","v":5.1,"k":"g"},{"d":"2021-09-15","v":1.8,"k":"r"},
{"d":"2021-09-22","v":1.2,"k":"n"},{"d":"2021-10-01","v":2.2,"k":"n"},{"d":"2021-10-09","v":2.7,"k":"r"},{"d":"2021-10-15","v":1.6,"k":"n"},
{"d":"2021-10-22","v":1.2,"k":"r"},{"d":"2021-10-28","v":2.4,"k":"n"},{"d":"2021-11-03","v":9.5,"k":"r"},{"d":"2021-11-08","v":1.8,"k":"n"},
{"d":"2021-11-15","v":1.4,"k":"r"},{"d":"2021-11-22","v":2.3,"k":"n"},{"d":"2021-11-28","v":1.8,"k":"n"},{"d":"2021-12-03","v":3.0,"k":"n"},
{"d":"2021-12-08","v":2.2,"k":"r"},{"d":"2021-12-13","v":2.4,"k":"n"},{"d":"2021-12-18","v":3.0,"k":"n"},{"d":"2021-12-24","v":1.5,"k":"g"},
{"d":"2022-01-03","v":5.5,"k":"g"},{"d":"2022-01-11","v":4.5,"k":"r"},{"d":"2022-01-18","v":1.4,"k":"n"},{"d":"2022-01-25","v":1.8,"k":"r"},
{"d":"2022-02-01","v":2.4,"k":"g"},{"d":"2022-02-05","v":1.2,"k":"n"},{"d":"2022-02-10","v":5.8,"k":"n"},{"d":"2022-02-17","v":1.6,"k":"r"},
{"d":"2022-02-24","v":1.0,"k":"n"},{"d":"2022-03-01","v":2.2,"k":"g"},{"d":"2022-03-06","v":11.1,"k":"g"},{"d":"2022-03-11","v":5.1,"k":"n"},
{"d":"2022-03-18","v":2.0,"k":"g"},{"d":"2022-03-25","v":1.4,"k":"r"},{"d":"2022-04-01","v":1.8,"k":"g"},{"d":"2022-04-05","v":3.3,"k":"r"},
{"d":"2022-04-12","v":2.4,"k":"n"},{"d":"2022-04-18","v":1.6,"k":"g"},{"d":"2022-04-25","v":2.0,"k":"r"},{"d":"2022-05-01","v":5.1,"k":"r"},
{"d":"2022-05-05","v":5.0,"k":"r"},{"d":"2022-05-12","v":2.2,"k":"n"},{"d":"2022-05-19","v":1.8,"k":"r"},{"d":"2022-05-26","v":1.3,"k":"n"},
{"d":"2022-06-02","v":1.9,"k":"g"},{"d":"2022-06-09","v":1.4,"k":"n"},{"d":"2022-06-16","v":2.4,"k":"r"},{"d":"2022-06-23","v":1.2,"k":"n"},
{"d":"2022-07-01","v":3.3,"k":"g"},{"d":"2022-07-08","v":1.5,"k":"r"},{"d":"2022-07-15","v":1.1,"k":"n"},{"d":"2022-07-22","v":0.8,"k":"g"},
{"d":"2022-08-01","v":1.0,"k":"n"},{"d":"2022-08-08","v":1.6,"k":"r"},{"d":"2022-08-15","v":0.7,"k":"n"},{"d":"2022-08-22","v":1.2,"k":"g"},
{"d":"2022-09-01","v":0.8,"k":"n"},{"d":"2022-09-08","v":1.0,"k":"r"},{"d":"2022-09-15","v":1.9,"k":"g"},{"d":"2022-09-22","v":0.6,"k":"n"},
{"d":"2022-10-01","v":1.1,"k":"r"},{"d":"2022-10-08","v":0.9,"k":"n"},{"d":"2022-10-15","v":1.2,"k":"r"},{"d":"2022-10-22","v":1.0,"k":"r"},
{"d":"2022-11-01","v":5.5,"k":"r"},{"d":"2022-11-07","v":1.8,"k":"n"},{"d":"2022-11-13","v":9.4,"k":"r"},{"d":"2022-11-20","v":2.0,"k":"r"},
{"d":"2022-11-27","v":8.8,"k":"n"},{"d":"2022-12-02","v":1.5,"k":"r"},{"d":"2022-12-06","v":6.8,"k":"g"},{"d":"2022-12-10","v":3.0,"k":"n"},
{"d":"2022-12-13","v":23.4,"k":"r"},{"d":"2022-12-20","v":21.5,"k":"n"},{"d":"2022-12-24","v":8.0,"k":"n"},{"d":"2022-12-28","v":2.4,"k":"g"},
{"d":"2023-01-04","v":1.8,"k":"r"},{"d":"2023-01-09","v":10.5,"k":"r"},{"d":"2023-01-15","v":1.6,"k":"n"},{"d":"2023-01-22","v":2.2,"k":"g"},
{"d":"2023-02-01","v":1.8,"k":"n"},{"d":"2023-02-09","v":6.8,"k":"g"},{"d":"2023-02-15","v":1.5,"k":"r"},{"d":"2023-02-20","v":5.1,"k":"n"},
{"d":"2023-03-01","v":1.8,"k":"n"},{"d":"2023-03-10","v":0.9,"k":"g"},{"d":"2023-03-20","v":1.4,"k":"n"},{"d":"2023-04-04","v":3.3,"k":"n"},
{"d":"2023-04-15","v":1.3,"k":"g"},{"d":"2023-04-27","v":3.0,"k":"n"},{"d":"2023-05-10","v":1.0,"k":"g"},{"d":"2023-05-20","v":1.6,"k":"g"},
{"d":"2023-05-30","v":1.3,"k":"n"},{"d":"2023-06-10","v":1.5,"k":"g"},{"d":"2023-06-20","v":0.8,"k":"n"},{"d":"2023-07-01","v":0.6,"k":"g"},
{"d":"2023-07-15","v":0.4,"k":"r"},{"d":"2023-07-25","v":0.7,"k":"n"},{"d":"2023-08-08","v":17.8,"k":"n"},{"d":"2023-08-15","v":0.6,"k":"r"},
{"d":"2023-08-25","v":1.2,"k":"n"},{"d":"2023-09-05","v":1.8,"k":"n"},{"d":"2023-09-12","v":3.0,"k":"n"},{"d":"2023-09-17","v":9.0,"k":"n"},
{"d":"2023-09-25","v":4.5,"k":"n"},{"d":"2023-10-05","v":1.5,"k":"g"},{"d":"2023-10-15","v":2.0,"k":"n"},{"d":"2023-10-26","v":2.6,"k":"g"},
{"d":"2023-11-05","v":1.6,"k":"n"},{"d":"2023-11-15","v":2.0,"k":"r"},{"d":"2023-11-27","v":5.0,"k":"r"},{"d":"2023-12-05","v":2.7,"k":"g"},
{"d":"2023-12-15","v":1.2,"k":"n"},{"d":"2023-12-22","v":0.8,"k":"r"},{"d":"2024-01-01","v":10.7,"k":"r"},{"d":"2024-01-09","v":1.0,"k":"r"},
{"d":"2024-01-20","v":0.6,"k":"n"},{"d":"2024-02-01","v":0.8,"k":"n"},{"d":"2024-02-12","v":1.5,"k":"n"},{"d":"2024-02-24","v":3.3,"k":"n"},
{"d":"2024-03-03","v":1.8,"k":"n"},{"d":"2024-03-11","v":2.2,"k":"n"},{"d":"2024-03-20","v":1.0,"k":"g"},{"d":"2024-03-27","v":1.2,"k":"n"},
{"d":"2024-04-04","v":2.7,"k":"n"},{"d":"2024-04-12","v":1.0,"k":"n"},{"d":"2024-04-19","v":0.7,"k":"g"},{"d":"2024-04-25","v":0.46,"k":"r"}
],
"yrs": [
{"yr":"2014","s":"2014-04-30","mid":"2014-08-31"},
{"yr":"2015","s":"2015-01-01","mid":"2015-07-02"},
{"yr":"2016","s":"2016-01-01","mid":"2016-07-02"},
{"yr":"2017","s":"2017-01-01","mid":"2017-07-02"},
{"yr":"2018","s":"2018-01-01","mid":"2018-07-02"},
{"yr":"2019","s":"2019-01-01","mid":"2019-07-02"},
{"yr":"2020","s":"2020-01-01","mid":"2020-07-02"},
{"yr":"2021","s":"2021-01-01","mid":"2021-07-02"},
{"yr":"2022","s":"2022-01-01","mid":"2022-07-02"},
{"yr":"2023","s":"2023-01-01","mid":"2023-07-02"},
{"yr":"2024","s":"2024-01-01","mid":"2024-03-04"}
]
},
"spacing": 2,
"bounds": "flush",
"vconcat": [
{
  "width": 788, "height": 369,
  "title": {"text": "Cdn:NUG", "anchor": "start", "offset": -17, "dx": 8, "fontSize": 13, "fontWeight": "normal", "color": "#000000", "font": "Liberation Sans"},
  "data": {"name": "px"},
  "encoding": {
    "x": {"field": "d", "type": "temporal",
      "scale": {"type": "utc", "domain": [{"year": 2014, "month": 4, "date": 30, "utc": true}, {"year": 2024, "month": 5, "date": 5, "utc": true}]},
      "axis": {"orient": "top", "labels": false, "grid": true, "domain": true, "domainColor": "#000000", "domainWidth": 2, "tickCount": 40,
        "values": [{"year":2015,"month":1,"date":1,"utc":true},{"year":2016,"month":1,"date":1,"utc":true},{"year":2017,"month":1,"date":1,"utc":true},{"year":2018,"month":1,"date":1,"utc":true},{"year":2019,"month":1,"date":1,"utc":true},{"year":2020,"month":1,"date":1,"utc":true},{"year":2021,"month":1,"date":1,"utc":true},{"year":2022,"month":1,"date":1,"utc":true},{"year":2023,"month":1,"date":1,"utc":true},{"year":2024,"month":1,"date":1,"utc":true}]}}
  },
  "layer": [
    {"mark": {"type": "rule", "color": "#000000", "strokeWidth": 2.8},
     "encoding": {
       "y": {"field": "l", "type": "quantitative", "scale": {"domain": [0, 0.596], "nice": false, "zero": false},
         "axis": {"orient": "right", "tickCount": 40, "values": [0.03,0.06,0.09,0.12,0.15,0.18,0.21,0.24,0.27,0.30,0.33,0.36,0.39,0.42,0.45,0.48,0.51,0.54,0.57], "format": ".2f", "grid": true, "domain": true, "domainColor": "#000000", "domainWidth": 2, "labelPadding": 5, "labelOverlap": false, "labelBound": false, "labelFlush": false}},
       "y2": {"field": "h"}}},
    {"mark": {"type": "square", "color": "#ff0000", "size": 4, "opacity": 1},
     "encoding": {"y": {"field": "c", "type": "quantitative"}}},
    {"mark": {"type": "line", "color": "#ff00ff", "strokeWidth": 1.5},
     "transform": [{"filter": "isValid(datum.m)"}],
     "encoding": {"y": {"field": "m", "type": "quantitative"}}},
    {"mark": {"type": "line", "color": "#0000ff", "strokeWidth": 1.5},
     "transform": [{"filter": "isValid(datum.b)"}],
     "encoding": {"y": {"field": "b", "type": "quantitative"}}}
  ]
},
{
  "spacing": 0,
  "bounds": "flush",
  "vconcat": [
    {
      "width": 788, "height": 107,
      "title": {"text": "Volume", "anchor": "start", "offset": -18, "dx": 8, "fontSize": 13, "fontWeight": "normal", "color": "#000000", "font": "Liberation Sans"},
      "data": {"name": "vol"},
      "mark": {"type": "rule", "strokeWidth": 2},
      "encoding": {
        "x": {"field": "d", "type": "temporal",
          "scale": {"type": "utc", "domain": [{"year": 2014, "month": 4, "date": 30, "utc": true}, {"year": 2024, "month": 5, "date": 5, "utc": true}]},
          "axis": {"orient": "bottom", "labels": false, "grid": true, "domain": true, "domainColor": "#000000", "domainWidth": 2, "tickCount": 40,
            "values": [{"year":2015,"month":1,"date":1,"utc":true},{"year":2016,"month":1,"date":1,"utc":true},{"year":2017,"month":1,"date":1,"utc":true},{"year":2018,"month":1,"date":1,"utc":true},{"year":2019,"month":1,"date":1,"utc":true},{"year":2020,"month":1,"date":1,"utc":true},{"year":2021,"month":1,"date":1,"utc":true},{"year":2022,"month":1,"date":1,"utc":true},{"year":2023,"month":1,"date":1,"utc":true},{"year":2024,"month":1,"date":1,"utc":true}]}},
        "y": {"field": "v", "type": "quantitative", "scale": {"domain": [-0.62, 24.07], "nice": false, "zero": false},
          "axis": {"orient": "right", "tickCount": 10, "values": [6, 12, 18], "labelExpr": "format(datum.value, '.1f') + ' M'", "grid": true, "domain": true, "domainColor": "#000000", "domainWidth": 2, "labelPadding": 4, "labelOverlap": false, "labelBound": false}},
        "y2": {"datum": -0.62},
        "color": {"field": "k", "type": "nominal", "scale": {"domain": ["r", "g", "n"], "range": ["#ff0000", "#4cb84c", "#a8a8a8"]}, "legend": null}
      }
    },
    {
      "width": 788, "height": 33,
      "data": {"name": "yrs"},
      "layer": [
        {"mark": {"type": "rule", "color": "#000000", "strokeWidth": 2},
         "encoding": {"x": {"field": "s", "type": "temporal", "scale": {"type": "utc", "domain": [{"year": 2014, "month": 4, "date": 30, "utc": true}, {"year": 2024, "month": 5, "date": 5, "utc": true}]}, "axis": null}}},
        {"mark": {"type": "rule", "color": "#000000", "strokeWidth": 2},
         "encoding": {"y": {"datum": 15, "type": "quantitative", "scale": {"domain": [0, 33], "nice": false}, "axis": null}}},
        {"mark": {"type": "text", "fontSize": 13, "baseline": "middle", "align": "center", "color": "#000000", "font": "Liberation Sans"},
         "encoding": {"x": {"field": "mid", "type": "temporal"}, "y": {"datum": 7, "type": "quantitative"}, "text": {"field": "yr"}}}
      ]
    }
  ]
}
]
}
